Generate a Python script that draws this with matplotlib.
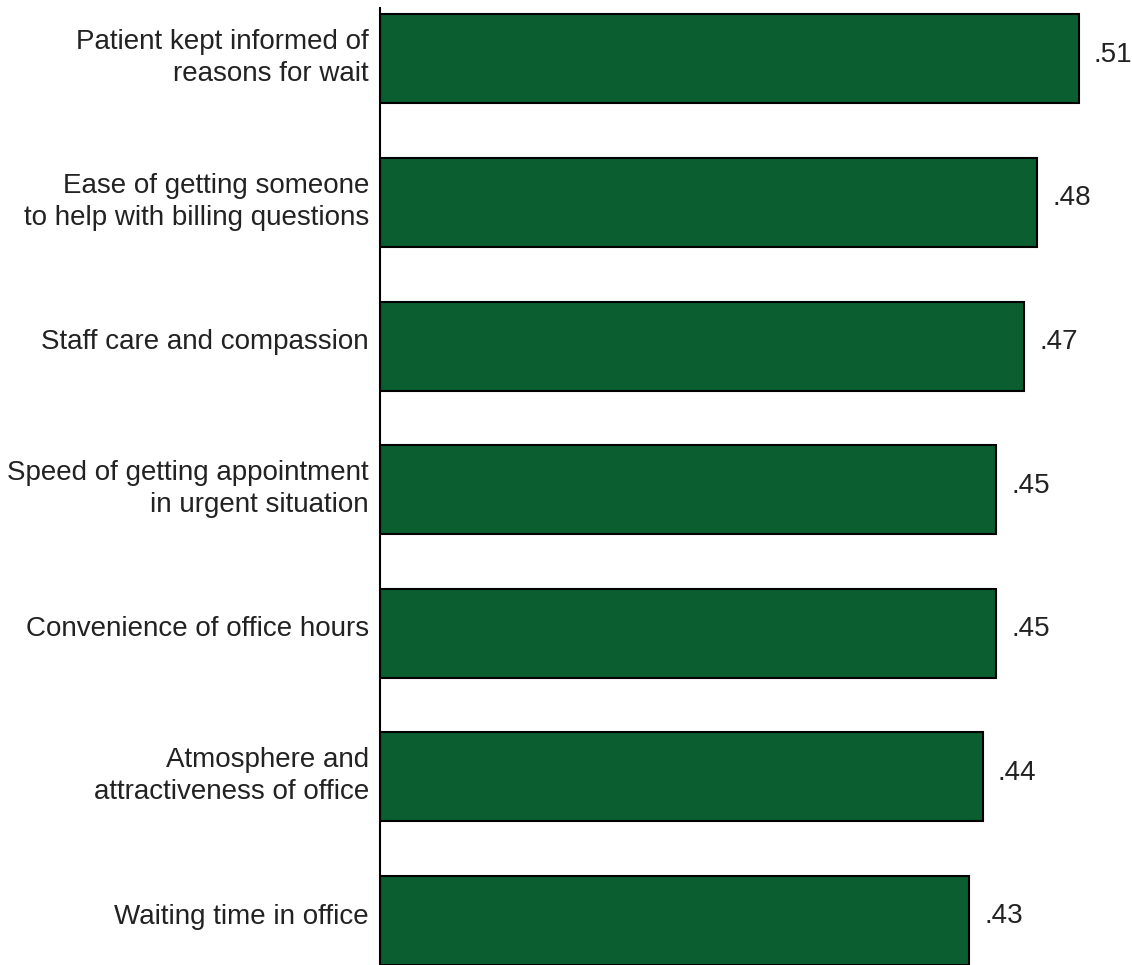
import matplotlib.pyplot as plt
import matplotlib.transforms as mtransforms

categories = [
    "Patient kept informed of\nreasons for wait",
    "Ease of getting someone\nto help with billing questions",
    "Staff care and compassion",
    "Speed of getting appointment\nin urgent situation",
    "Convenience of office hours",
    "Atmosphere and\nattractiveness of office",
    "Waiting time in office",
]
values = [0.51, 0.48, 0.47, 0.45, 0.45, 0.44, 0.43]
value_labels = [".51", ".48", ".47", ".45", ".45", ".44", ".43"]

plt.rcParams['font.family'] = ['Liberation Sans', 'DejaVu Sans']

fig = plt.figure(figsize=(11.32, 9.65), dpi=100)
ax = fig.add_axes([380 / 1132, 0.0, 1 - 380 / 1132, 1 - 8 / 965])

ypos = list(range(len(categories)))
ax.barh(ypos, values, height=0.62, color='#0b5e2f', edgecolor='black', linewidth=1.5)

# value labels just right of each bar end
for y, v, lab in zip(ypos, values, value_labels):
    ax.annotate(lab, (v, y), xytext=(11, 3), textcoords='offset points',
                va='center', ha='left', fontsize=20, color='#222222')

ax.set_yticks(ypos)
ax.set_yticklabels(categories, fontsize=20, color='#222222', linespacing=1.3)
ax.tick_params(axis='y', length=0, pad=8)
# lift the category labels a touch above the bar centres
lift = mtransforms.ScaledTranslation(0, 5 / 72, fig.dpi_scale_trans)
for t in ax.get_yticklabels():
    t.set_transform(t.get_transform() + lift)
ax.set_xticks([])
ax.set_xlim(0, 0.549)
ax.set_ylim(6.31, -0.355)

for side in ('top', 'right', 'bottom'):
    ax.spines[side].set_visible(False)
ax.spines['left'].set_linewidth(1.5)

fig.savefig('out.png', dpi=100)
